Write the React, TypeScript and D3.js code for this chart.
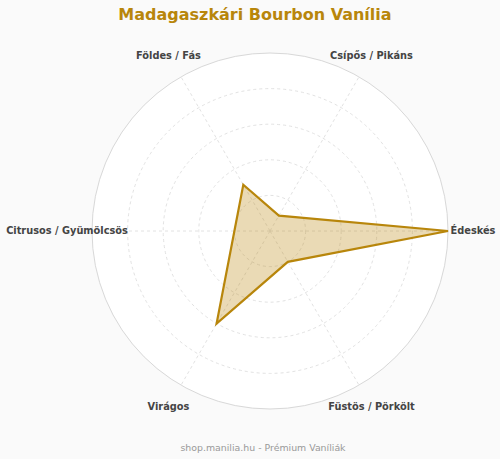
import React from 'react';
import * as d3 from 'd3';

// flavour profile axes (clockwise from the right) and their scores
const axes = ['Édeskés', 'Füstös / Pörkölt', 'Virágos', 'Citrusos / Gyümölcsös', 'Földes / Fás', 'Csípős / Pikáns'];
const scores = [10, 2, 6, 2, 3, 1];
const gridLevels = [2, 4, 6, 8];
const maxScore = 10;

const title = 'Madagaszkári Bourbon Vanília';
const footer = 'shop.manilia.hu - Prémium Vaníliák';

const App: React.FC = () => {
  const width = 500;
  const height = 459;
  const cx = 270;
  const cy = 231;
  const radius = 178;
  const labelRadius = 203;
  const gold = '#b8860b';

  const r = d3.scaleLinear().domain([0, maxScore]).range([0, radius]);
  const angle = d3.scaleLinear().domain([0, axes.length]).range([0, 2 * Math.PI]);

  const point = (i: number, v: number): [number, number] => [
    cx + r(v) * Math.cos(angle(i)),
    cy + r(v) * Math.sin(angle(i)),
  ];

  const line = d3.line<number>()
    .x((d, i) => point(i, d)[0])
    .y((d, i) => point(i, d)[1])
    .curve(d3.curveLinearClosed);

  return (
    <svg
      width={width}
      height={height}
      style={{ position: 'absolute', left: 0, top: 0, background: '#fafafa', fontFamily: 'DejaVu Sans, sans-serif' }}
    >
      <text x={255} y={20} textAnchor="middle" fontSize={16} fontWeight="bold" fill={gold}>
        {title}
      </text>

      {/* outer ring */}
      <circle cx={cx} cy={cy} r={radius} fill="#fff" stroke="#d8d8d8" strokeWidth={1} />

      {/* grid rings */}
      {gridLevels.map(l => (
        <circle key={l} cx={cx} cy={cy} r={r(l)} fill="none" stroke="#e2e2e2" strokeDasharray="3,3" />
      ))}

      {/* spokes */}
      {axes.map((a, i) => {
        const [x, y] = point(i, maxScore);
        return <line key={a} x1={cx} y1={cy} x2={x} y2={y} stroke="#e2e2e2" strokeDasharray="3,3" />;
      })}

      <path d={line(scores) || ''} fill={gold} fillOpacity={0.3} stroke={gold} strokeWidth={2.2} strokeLinejoin="miter" />

      {axes.map((a, i) => {
        const [x, y] = point(i, (labelRadius / radius) * maxScore);
        return (
          <text key={a} x={x} y={y} dy="0.35em" textAnchor="middle" fontSize={9.8} fontWeight="bold" fill="#444">
            {a}
          </text>
        );
      })}

      <text x={263} y={451} textAnchor="middle" fontSize={9.4} fill="#999">
        {footer}
      </text>
    </svg>
  );
};

export default App;
